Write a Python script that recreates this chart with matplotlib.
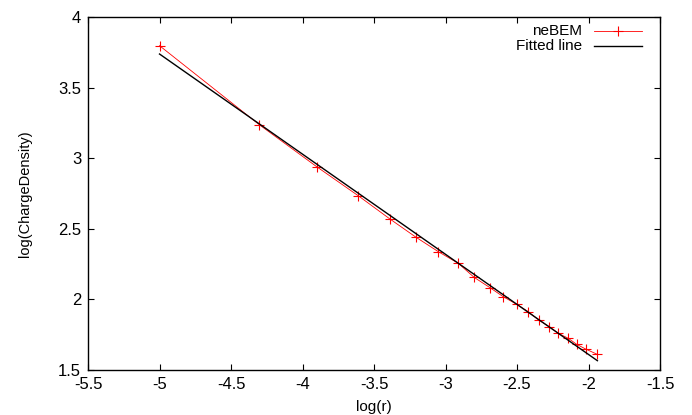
import matplotlib
matplotlib.use("Agg")
import matplotlib.pyplot as plt
from matplotlib.lines import Line2D

plt.rcParams["font.family"] = ["Liberation Sans", "DejaVu Sans"]

# neBEM computed points
log_r = [-5.0, -4.302, -3.901, -3.610, -3.388, -3.206, -3.050, -2.910,
         -2.801, -2.689, -2.596, -2.502, -2.421, -2.349, -2.274, -2.211,
         -2.141, -2.083, -2.017, -1.943]
log_density = [3.797, 3.237, 2.940, 2.734, 2.569, 2.440, 2.338, 2.255,
               2.157, 2.083, 2.019, 1.965, 1.913, 1.854, 1.807, 1.760,
               1.724, 1.682, 1.647, 1.613]

# fitted straight line, end points
fit_x = [-5.0, -1.938]
fit_y = [3.738, 1.566]

xticks = [-5.5, -5, -4.5, -4, -3.5, -3, -2.5, -2, -1.5]
yticks = [1.5, 2, 2.5, 3, 3.5, 4]


def fmt(v):
    return f"{v:g}"


def main() -> None:
    fig = plt.figure(figsize=(6.92, 4.15), dpi=100)
    ax = fig.add_axes([0.1272, 0.1084, 0.8266, 0.8506])

    red = "#ff0000"
    ax.plot(log_r, log_density, color=red, lw=0.6, marker="+",
            markersize=7.5, markeredgewidth=0.8)
    ax.plot(fit_x, fit_y, color="black", lw=1.0)

    ax.set_xlim(-5.5, -1.5)
    ax.set_ylim(1.5, 4)
    ax.set_xticks(xticks)
    ax.set_yticks(yticks)
    ax.set_xticklabels([fmt(v) for v in xticks])
    ax.set_yticklabels([fmt(v) for v in yticks])
    ax.tick_params(direction="in", length=4, width=0.8, top=True, right=True,
                   labelsize=12, pad=5)
    for sp in ax.spines.values():
        sp.set_linewidth(1.0)

    ax.set_xlabel("log(r)", fontsize=11, labelpad=6)
    ax.set_ylabel("log(ChargeDensity)", fontsize=10.5, labelpad=19)

    # gnuplot style key: labels right aligned, samples to the right
    tr = ax.transAxes
    rows = [("neBEM", red, "+"), ("Fitted line", "black", None)]
    for i, (label, col, mk) in enumerate(rows):
        yy = 0.960 - i * 0.043
        ax.text(0.863, yy, label, transform=tr, ha="right", va="center",
                fontsize=11)
        ax.add_line(Line2D([0.885, 0.968], [yy, yy], transform=tr, color=col,
                           lw=0.6 if mk else 1.0))
        if mk:
            ax.add_line(Line2D([0.926], [yy], transform=tr, color=col,
                               marker=mk, markersize=7.5, markeredgewidth=0.8))

    fig.savefig("out.png", dpi=100)
    plt.close(fig)


if __name__ == "__main__":
    main()
